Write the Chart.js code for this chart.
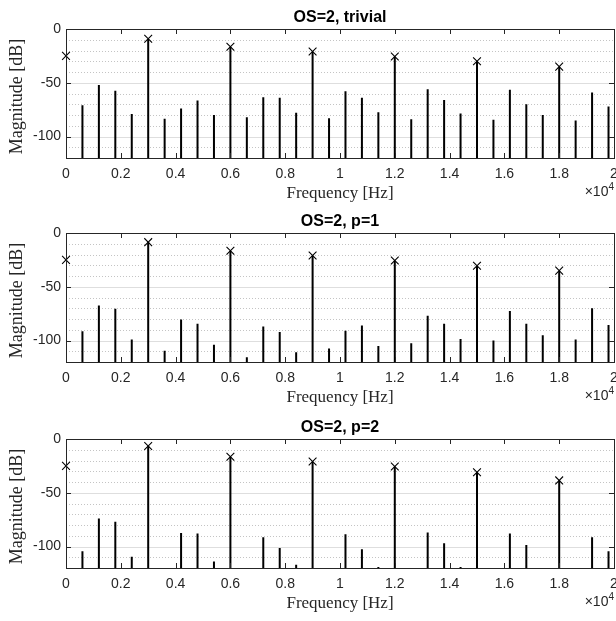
<!DOCTYPE html>
<html>
<head>
<meta charset="utf-8">
<script src="https://cdn.jsdelivr.net/npm/chart.js@4.4.1/dist/chart.umd.min.js"></script>
<style>
  html, body { margin: 0; padding: 0; background: #fff; overflow: hidden; width: 616px; height: 621px; }
  .plot { position: absolute; left: 0; width: 630px; height: 205px; }
</style>
</head>
<body>
<div class="plot" style="top:0px"><canvas id="c1" width="630" height="205"></canvas></div>
<div class="plot" style="top:204px"><canvas id="c2" width="630" height="205"></canvas></div>
<div class="plot" style="top:410px"><canvas id="c3" width="630" height="205"></canvas></div>
<script>
// frequency bins of the spectrum lines (Hz)
const freqs = [0, 600, 1200, 1800, 2400, 3000, 3600, 4200, 4800, 5400, 6000, 6600,
  7200, 7800, 8400, 9000, 9600, 10200, 10800, 11400, 12000, 12600, 13200, 13800,
  14400, 15000, 15600, 16200, 16800, 17400, 18000, 18600, 19200, 19800];

// measured magnitudes (dB), null = below the plot floor
const magTrivial = [-57, -71, -52, -57.5, -79, -9, -83.5, -74, -66.5, -80, -16.5, -82,
  -63.5, -64, -78, -21, -83, -58, -64, -77.5, -25.5, -84, -56, -66,
  -78.5, -30, -84.5, -56.5, -70, -80, -35, -85, -59, -72];
const magP1 = [-57, -91.5, -67.5, -70.5, -99, -8.5, -109.5, -80.5, -84.5, -104, -16.5, -115.5,
  -87, -92, -111, -21, -107.5, -91, -86, -105, -25.5, -102.5, -77, -84.5,
  -98.5, -30.5, -100, -72.5, -84.5, -95, -35, -99, -70, -85.5];
const magP2 = [-57, -104.5, -74, -77, -109.5, -6.5, null, -87.5, -88, -114, -16.5, null,
  -91.5, -101.5, -117, -21, null, -88.5, -102.5, -119, -25.5, null, -87, -97,
  -119, -31, null, -88, -98.5, null, -38.5, null, -91.5, -104.5];

// ideal harmonic levels (x markers)
const harmFreqs = [0, 3000, 6000, 9000, 12000, 15000, 18000];
const harmTrivial = [-25, -9, -16.5, -21, -25.5, -30, -35];
const harmP1 = [-25, -8.5, -16.5, -21, -25.5, -30.5, -35];
const harmP2 = [-25, -6.5, -16.5, -21, -25.5, -31, -38.5];

const titles = ['OS=2, trivial', 'OS=2, p=1', 'OS=2, p=2'];
const xTicks = [0, 2000, 4000, 6000, 8000, 10000, 12000, 14000, 16000, 18000, 20000];
const yMajor = [0, -50, -100];
const yMinor = [-10, -20, -30, -40, -60, -70, -80, -90, -110];

const FLOOR = -120;
const AX = '#262626';

const stemPoints = (mags) => {
  const pts = [];
  freqs.forEach((f, i) => {
    if (mags[i] === null) return;
    pts.push({x: f, y: FLOOR}, {x: f, y: mags[i]}, {x: f, y: null});
  });
  return pts;
};

const deco = {
  id: 'deco',
  beforeDatasetsDraw(chart) {
    const {ctx, chartArea: a, scales: {y}} = chart;
    ctx.save();
    ctx.lineWidth = 1;
    ctx.strokeStyle = '#c4c4c4';
    ctx.setLineDash([1, 2]);
    yMinor.forEach(v => {
      const py = Math.round(y.getPixelForValue(v)) + 0.5;
      ctx.beginPath(); ctx.moveTo(a.left, py); ctx.lineTo(a.right, py); ctx.stroke();
    });
    ctx.setLineDash([]);
    ctx.strokeStyle = '#dedede';
    yMajor.forEach(v => {
      const py = Math.round(y.getPixelForValue(v)) + 0.5;
      ctx.beginPath(); ctx.moveTo(a.left, py); ctx.lineTo(a.right, py); ctx.stroke();
    });
    ctx.restore();
  },
  afterDraw(chart, args, opts) {
    const {ctx, chartArea: a, scales: {x, y}} = chart;
    ctx.save();
    ctx.strokeStyle = AX;
    ctx.lineWidth = 1;
    ctx.strokeRect(Math.round(a.left) + 0.5, Math.round(a.top) + 0.5,
      Math.round(a.right - a.left), Math.round(a.bottom - a.top));
    const tl = 5;
    ctx.beginPath();
    xTicks.forEach(v => {
      const px = Math.round(x.getPixelForValue(v)) + 0.5;
      ctx.moveTo(px, a.bottom); ctx.lineTo(px, a.bottom - tl);
      ctx.moveTo(px, a.top); ctx.lineTo(px, a.top + tl);
    });
    yMajor.forEach(v => {
      const py = Math.round(y.getPixelForValue(v)) + 0.5;
      ctx.moveTo(a.left, py); ctx.lineTo(a.left + tl, py);
      ctx.moveTo(a.right, py); ctx.lineTo(a.right - tl, py);
    });
    ctx.stroke();

    const cx = (a.left + a.right) / 2;
    ctx.fillStyle = '#000';
    ctx.textAlign = 'center';
    ctx.textBaseline = 'middle';
    ctx.font = 'bold 16px "Liberation Sans", Arial, sans-serif';
    ctx.fillText(opts.title, cx, a.top - 11);

    ctx.fillStyle = AX;
    ctx.font = '17px "Liberation Serif", "Times New Roman", serif';
    ctx.fillText('Frequency [Hz]', cx, a.bottom + 36);
    ctx.save();
    ctx.translate(17, (a.top + a.bottom) / 2 + 3);
    ctx.rotate(-Math.PI / 2);
    ctx.font = '18px "Liberation Serif", "Times New Roman", serif';
    ctx.fillText('Magnitude [dB]', 0, 0);
    ctx.restore();

    ctx.textAlign = 'right';
    ctx.font = '10px "Liberation Sans", Arial, sans-serif';
    ctx.fillText('4', a.right, a.bottom + 29);
    const w4 = ctx.measureText('4').width;
    ctx.font = '14px "Liberation Sans", Arial, sans-serif';
    ctx.fillText('\u00d710', a.right - w4, a.bottom + 34);
    ctx.restore();
  }
};

const makeChart = (id, mags, harm, title) => new Chart(document.getElementById(id), {
  type: 'scatter',
  data: {
    datasets: [
      {
        data: stemPoints(mags),
        showLine: true,
        borderColor: '#000',
        borderWidth: 2,
        pointRadius: 0,
        spanGaps: false
      },
      {
        data: harmFreqs.map((f, i) => ({x: f, y: harm[i]})),
        showLine: false,
        pointStyle: 'crossRot',
        pointRadius: 5.5,
        borderColor: '#000',
        borderWidth: 1.1,
        clip: false
      }
    ]
  },
  options: {
    responsive: false,
    animation: false,
    layout: {padding: {top: 29, right: 16, left: 0, bottom: 0}},
    plugins: {legend: {display: false}, tooltip: {enabled: false}, deco: {title}},
    scales: {
      x: {
        type: 'linear', min: 0, max: 20000,
        afterFit: s => { s.height = 47; },
        grid: {display: false, drawTicks: false}, border: {display: false},
        ticks: {
          stepSize: 2000, padding: 8, color: AX, maxRotation: 0,
          font: {family: '"Liberation Sans", Arial, sans-serif', size: 14},
          callback: v => String(+(v / 10000).toFixed(1))
        }
      },
      y: {
        min: FLOOR, max: 0,
        afterFit: s => { s.width = 66; },
        grid: {display: false, drawTicks: false}, border: {display: false},
        ticks: {
          stepSize: 10, padding: 5, color: AX,
          font: {family: '"Liberation Sans", Arial, sans-serif', size: 14},
          callback: v => (v % 50 === 0 ? String(v) : null)
        }
      }
    }
  },
  plugins: [deco]
});

makeChart('c1', magTrivial, harmTrivial, titles[0]);
makeChart('c2', magP1, harmP1, titles[1]);
makeChart('c3', magP2, harmP2, titles[2]);
</script>
</body>
</html>
